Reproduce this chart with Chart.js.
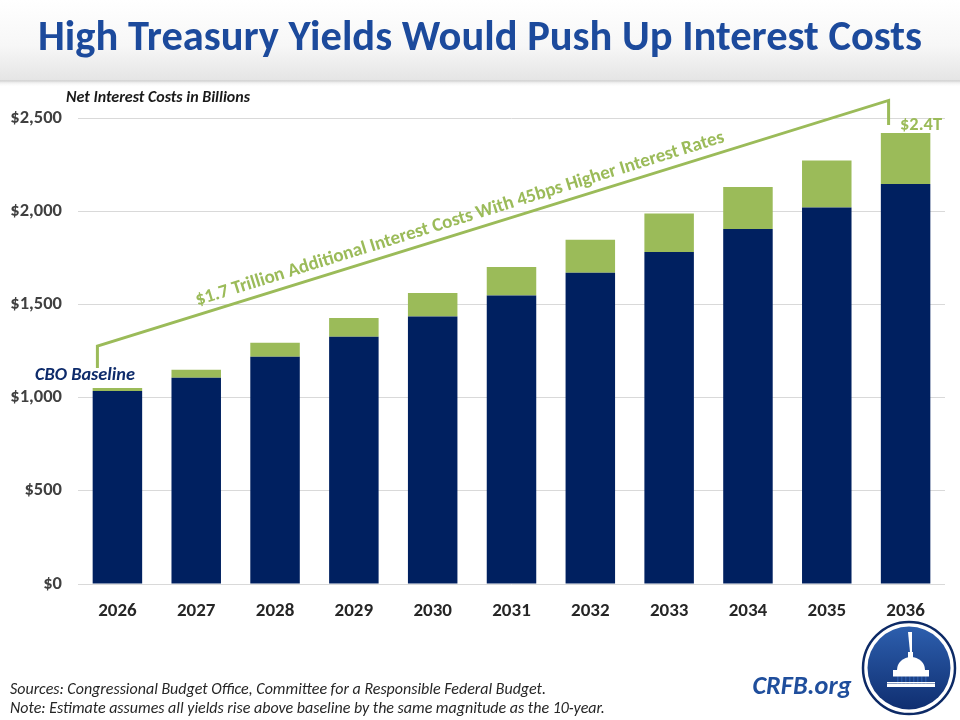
<!DOCTYPE html>
<html>
<head>
<meta charset="utf-8">
<script src="https://cdn.jsdelivr.net/npm/chart.js@4"></script>
<style>
  html, body { margin:0; padding:0; background:#fff; }
  #wrap { width:960px; height:720px; position:relative; }
</style>
</head>
<body>
<div id="wrap"><canvas id="chart" width="960" height="720"></canvas></div>
<script>
// ── Data ──
const years      = ['2026','2027','2028','2029','2030','2031','2032','2033','2034','2035','2036'];
const baseline   = [1036, 1106, 1219, 1326, 1435, 1548, 1670, 1781, 1904, 2020, 2146];
const additional = [15, 43, 75, 101, 126, 152, 177, 206, 226, 252, 274];
const yTicks     = [0, 500, 1000, 1500, 2000, 2500];

const NAVY  = '#002060';
const GREEN = '#9bbb59';
const FONT  = 'Carlito, Lato, "Open Sans", sans-serif';

// size a font so the text spans a given width
function fitFont(ctx, text, style, width){
  ctx.font = style + ' 100px ' + FONT;
  const w = ctx.measureText(text).width;
  return style + ' ' + (100 * width / w).toFixed(2) + 'px ' + FONT;
}

const decor = {
  id: 'decor',
  beforeDraw(chart){
    const ctx = chart.ctx;
    ctx.save();
    // title band
    const g = ctx.createLinearGradient(0, 0, 0, 82);
    g.addColorStop(0, '#ffffff');
    g.addColorStop(0.55, '#f7f7f7');
    g.addColorStop(1, '#e4e4e4');
    ctx.fillStyle = g;
    ctx.fillRect(0, 0, 960, 82);
    const s = ctx.createLinearGradient(0, 80, 0, 87);
    s.addColorStop(0, '#d2d2d2');
    s.addColorStop(1, 'rgba(255,255,255,0)');
    ctx.fillStyle = s;
    ctx.fillRect(0, 80, 960, 7);
    ctx.restore();
  },
  afterDraw(chart){
    const ctx = chart.ctx;
    const xs = chart.scales.x, ys = chart.scales.y;
    ctx.save();

    // title
    const title = 'High Treasury Yields Would Push Up Interest Costs';
    ctx.fillStyle = '#1c4a9c';
    ctx.textAlign = 'center';
    ctx.textBaseline = 'alphabetic';
    ctx.font = fitFont(ctx, title, 'bold', 884);
    ctx.fillText(title, 480, 50);

    // axis caption
    ctx.fillStyle = '#1a1a1a';
    ctx.textAlign = 'left';
    ctx.textBaseline = 'middle';
    ctx.font = fitFont(ctx, 'Net Interest Costs in Billions', 'italic bold', 184);
    ctx.fillText('Net Interest Costs in Billions', 66, 98);

    // bracket line
    const first = baseline[0] + additional[0];
    const last  = baseline[10] + additional[10];
    const lx = xs.getPixelForValue(0) - 20;
    const lb = ys.getPixelForValue(first) - 20;
    const lt = lb - 22;
    const rx = xs.getPixelForValue(10) - 17;
    const rb = ys.getPixelForValue(last) - 8;
    const rt = rb - 24.5;
    ctx.strokeStyle = GREEN;
    ctx.lineWidth = 3;
    ctx.lineJoin = 'miter';
    ctx.beginPath();
    ctx.moveTo(lx, lb);
    ctx.lineTo(lx, lt);
    ctx.lineTo(rx, rt);
    ctx.lineTo(rx, rb);
    ctx.stroke();

    // rotated label along the line
    const ang = Math.atan2(rt - lt, rx - lx);
    const label = '$1.7 Trillion Additional Interest Costs With 45bps Higher Interest Rates';
    const cx = 464, cy = lt + (cx - lx) * Math.tan(ang);
    ctx.translate(cx, cy);
    ctx.rotate(ang);
    ctx.fillStyle = GREEN;
    ctx.textAlign = 'center';
    ctx.textBaseline = 'alphabetic';
    ctx.font = fitFont(ctx, label, 'bold', 553);
    ctx.fillText(label, 0, -9);
    ctx.setTransform(1, 0, 0, 1, 0, 0);
    ctx.scale(chart.currentDevicePixelRatio, chart.currentDevicePixelRatio);

    // end labels
    ctx.fillStyle = GREEN;
    ctx.textAlign = 'center';
    ctx.textBaseline = 'middle';
    ctx.font = fitFont(ctx, '$2.4T', 'bold', 42);
    ctx.fillText('$2.4T', 921, 125);

    ctx.fillStyle = '#0e2b6b';
    ctx.font = fitFont(ctx, 'CBO Baseline', 'italic bold', 100);
    ctx.fillText('CBO Baseline', 85, 375);

    // footer notes
    ctx.fillStyle = '#262626';
    ctx.textAlign = 'left';
    const src = 'Sources: Congressional Budget Office, Committee for a Responsible Federal Budget.';
    const note = 'Note: Estimate assumes all yields rise above baseline by the same magnitude as the 10-year.';
    ctx.font = fitFont(ctx, note, 'italic', 595);
    ctx.fillText(src, 10, 690);
    ctx.fillText(note, 10, 709);

    // CRFB.org
    ctx.fillStyle = '#1f4e9c';
    ctx.textAlign = 'center';
    ctx.font = fitFont(ctx, 'CRFB.org', 'italic bold', 99);
    ctx.fillText('CRFB.org', 802, 687);

    // logo
    const ox = 909, oy = 668;
    ctx.beginPath();
    ctx.arc(ox, oy, 46, 0, Math.PI * 2);
    ctx.strokeStyle = '#0d2a66';
    ctx.lineWidth = 2.5;
    ctx.stroke();
    const lg = ctx.createLinearGradient(0, oy - 42, 0, oy + 42);
    lg.addColorStop(0, '#2d5fae');
    lg.addColorStop(1, '#0f2e70');
    ctx.beginPath();
    ctx.arc(ox, oy, 41.5, 0, Math.PI * 2);
    ctx.fillStyle = lg;
    ctx.fill();
    // simple capitol silhouette
    ctx.fillStyle = '#ffffff';
    ctx.strokeStyle = '#ffffff';
    ctx.lineWidth = 1;
    ctx.beginPath();
    ctx.ellipse(ox + 2, oy + 2, 14, 13, 0, Math.PI, 0);
    ctx.fill();
    ctx.fillRect(ox - 1, oy - 16, 5, 6);
    ctx.fillRect(ox - 16, oy + 2, 36, 5);
    ctx.fillRect(ox - 22, oy + 16, 48, 3);
    ctx.fillStyle = '#2a58a6';
    for(let i = 0; i < 8; i++){ ctx.fillRect(ox - 12 + i * 4, oy + 8, 1.5, 8); }
    ctx.fillStyle = '#ffffff';
    ctx.fillRect(ox - 16, oy + 7, 36, 1.5);
    ctx.fillRect(ox - 22, oy + 14, 48, 1.5);
    ctx.beginPath();
    ctx.moveTo(ox + 1, oy - 16);
    ctx.lineTo(ox - 1, oy - 36);
    ctx.lineTo(ox + 3, oy - 36);
    ctx.lineTo(ox + 3, oy - 16);
    ctx.fill();

    ctx.restore();
  }
};

new Chart(document.getElementById('chart'), {
  type: 'bar',
  data: {
    labels: years,
    datasets: [
      { label: 'CBO Baseline', data: baseline, backgroundColor: NAVY, barPercentage: 0.628, categoryPercentage: 1 },
      { label: 'Additional Interest Costs', data: additional, backgroundColor: GREEN, barPercentage: 0.628, categoryPercentage: 1 }
    ]
  },
  options: {
    responsive: false,
    animation: false,
    layout: { padding: { top: 118, right: 15, bottom: 0, left: 0 } },
    plugins: { legend: { display: false }, tooltip: { enabled: false } },
    scales: {
      x: {
        stacked: true,
        grid: { display: false },
        border: { display: false },
        ticks: { color: '#262626', font: { family: FONT, size: 19, weight: 'bold' }, padding: 8 },
        afterFit: s => { s.height = 136; }
      },
      y: {
        stacked: true,
        min: 0, max: 2500,
        afterBuildTicks: s => { s.ticks = yTicks.map(v => ({ value: v })); },
        grid: { color: '#d9d9d9', drawTicks: false },
        border: { display: false },
        ticks: {
          color: '#404040',
          font: { family: FONT, size: 18.5, weight: 'bold' },
          padding: 16,
          callback: v => '$' + v.toLocaleString('en-US')
        },
        afterFit: s => { s.width = 78; }
      }
    }
  },
  plugins: [decor]
});
</script>
</body>
</html>
